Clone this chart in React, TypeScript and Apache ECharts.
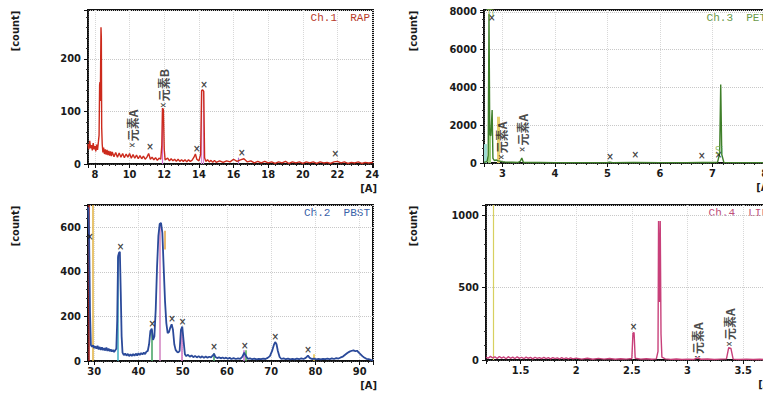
import React, { useEffect, useRef } from 'react';
import * as echarts from 'echarts';

// ---------------- Data ----------------
// Ch.1 RAP
const ch1X = [7.6,7.65,7.7,7.75,7.8,7.85,7.9,7.95,8.0,8.05,8.1,8.15,8.2,8.24,8.27,8.29,8.31,8.33,8.35,8.37,8.39,8.42,8.46,8.5,8.55,8.6,8.65,8.7,8.75,8.8,8.85,8.9,8.95,9.0,9.1,9.2,9.3,9.4,9.5,9.6,9.7,9.8,9.9,10.0,10.1,10.2,10.3,10.4,10.5,10.6,10.7,10.8,10.9,11.0,11.1,11.2,11.3,11.4,11.5,11.6,11.7,11.8,11.86,11.9,11.95,12.0,12.05,12.2,12.3,12.4,12.5,12.6,12.7,12.8,12.9,13.0,13.1,13.2,13.3,13.4,13.5,13.6,13.7,13.8,13.88,14.0,14.1,14.16,14.22,14.28,14.33,14.4,14.5,14.6,14.7,14.8,14.9,15.0,15.2,15.4,15.6,15.8,16.0,16.2,16.4,16.6,16.8,17.0,17.2,17.4,17.6,17.8,18.0,18.2,18.4,18.6,18.8,19.0,19.2,19.4,19.6,19.8,20.0,20.2,20.4,20.6,20.8,21.0,21.2,21.4,21.6,21.8,22.0,22.2,22.4,22.6,22.8,23.0,23.2,23.4,23.6,23.8,24.05];
const ch1Y = [38,28,44,30,36,26,40,28,34,24,37,27,42,55,150,156,120,190,260,240,70,38,22,31,19,28,18,27,17,25,16,24,15,23,14,22,13,21,13,20,12,19,13,20,11,18,11,17,10,16,10,15,9,13,20,9,13,8,12,7,11,9,35,106,104,28,8,11,6,10,6,9,5,9,5,8,5,8,4,8,5,7,12,19,9,6,18,140,141,138,12,5,8,4,7,3,7,3,6,3,6,4,9,5,8,10,4,6,2,5,2,5,2,4,1,4,2,5,1,4,2,4,1,4,2,4,1,4,2,3,1,4,5,2,4,1,3,2,4,1,3,2,3];
const ch1LineX = [11.9, 14.15, 14.28, 16.3];
const ch1LineTop = [106, 140, 140, 12];
const ch1MarkX = [11.18, 13.88, 14.3, 16.48, 21.87];
const ch1MarkY = [24, 19, 142, 12, 10];
const ch1NameX = [10.18, 11.95];
const ch1NameY = [30, 106];
const ch1NameText = ['元素A', '元素B'];

// Ch.2 PBST
const ch2X = [28.65,28.85,29.05,29.25,29.5,29.75,30.0,30.25,30.5,30.75,31.0,31.25,31.5,31.75,32.0,32.25,32.5,32.75,33.0,33.25,33.5,33.75,34.0,34.25,34.5,34.75,35.0,35.2,35.4,35.6,35.8,36.0,36.2,36.4,36.7,37.0,37.3,37.6,37.9,38.2,38.5,38.8,39.1,39.4,39.7,40.0,40.3,40.6,40.9,41.2,41.5,41.8,42.1,42.4,42.7,43.0,43.3,43.6,43.9,44.2,44.5,44.8,45.1,45.4,45.7,46.0,46.3,46.6,46.9,47.2,47.5,47.8,48.1,48.4,48.7,49.0,49.3,49.6,49.9,50.2,50.5,50.8,51.2,51.6,52.0,52.4,52.8,53.2,53.6,54.0,54.4,54.8,55.2,55.6,56.0,56.4,56.8,57.1,57.4,57.8,58.2,58.6,59.0,59.4,59.8,60.2,60.6,61.0,61.5,62.0,62.5,63.0,63.5,63.9,64.3,64.7,65.2,65.7,66.2,66.7,67.2,67.7,68.2,68.7,69.2,69.7,70.2,70.6,70.9,71.2,71.5,71.9,72.3,72.8,73.3,73.8,74.3,74.8,75.3,75.8,76.3,76.8,77.3,77.8,78.3,78.7,79.2,79.7,80.2,80.7,81.2,81.7,82.2,82.7,83.2,83.7,84.2,84.7,85.2,85.7,86.2,86.7,87.2,87.7,88.2,88.6,89.0,89.4,89.8,90.2,90.6,91.0,91.5,92.0,92.5,93.0];
const ch2Y = [690,560,220,72,64,70,58,66,55,68,52,63,50,61,49,58,47,60,45,55,44,52,42,50,40,48,55,180,470,485,490,310,110,38,26,34,24,32,22,30,23,31,24,33,25,35,27,36,29,38,31,42,45,75,135,145,95,110,230,420,560,615,620,575,420,270,170,125,130,150,165,140,75,50,42,38,45,140,155,90,30,22,28,19,25,17,23,16,22,15,21,14,20,15,19,16,25,32,18,13,17,12,16,11,15,10,14,9,13,9,12,10,20,38,22,10,12,8,11,7,10,8,11,9,14,22,45,72,85,75,45,18,9,12,8,11,7,10,7,11,8,12,9,14,24,14,9,11,7,10,7,10,8,11,8,12,9,13,11,16,20,28,36,42,46,48,44,46,38,30,22,16,10,8,5,4];
const ch2LineX = [28.72, 29.6, 35.25, 44.85, 46.0, 43.0, 49.75, 57.0, 63.8, 64.3, 79.6];
const ch2LineBot = [0, 0, 0, 0, 500, 0, 0, 0, 0, 0, 0];
const ch2LineTop = [700, 700, 465, 610, 585, 140, 150, 35, 48, 48, 30];
const ch2MarkX = [29.0, 35.96, 43.1, 47.6, 49.95, 57.1, 64.0, 70.9, 78.3];
const ch2MarkY = [535, 490, 145, 165, 155, 40, 45, 88, 28];

// Ch.3 PET
const ch3X = [2.65,2.68,2.71,2.73,2.745,2.76,2.78,2.805,2.82,2.85,2.88,2.92,2.96,3.0,3.05,3.1,3.2,3.3,3.34,3.37,3.4,3.5,3.7,4.0,4.5,5.0,5.05,5.1,5.5,6.0,6.5,6.8,7.0,7.1,7.14,7.16,7.18,7.22,7.5,8.08];
const ch3Y = [40,60,90,400,7900,1500,1450,2800,250,130,160,110,90,70,55,45,40,35,90,260,40,30,25,20,20,25,45,22,30,20,20,30,25,45,500,4150,450,35,20,20];
const ch3LineX = [2.665, 2.755, 2.92];
const ch3LineTop = [1000, 1600, 2450];
const ch3MarkX = [2.8, 5.05, 5.53, 6.8, 7.12];
const ch3MarkY = [7400, 40, 160, 110, 150];
const ch3NameX = [2.99, 3.39];
const ch3NameY = [150, 560];
const ch3NameText = ['元素A', '元素A'];
const ch3TagX = [2.77, 7.13];
const ch3TagY = [7920, 640];
const ch3TagText = ['Ti', 'Si'];

// Ch.4 LIF
const ch4X = [1.19,1.21,1.23,1.25,1.27,1.29,1.31,1.33,1.35,1.37,1.39,1.41,1.43,1.45,1.47,1.49,1.51,1.53,1.55,1.57,1.59,1.61,1.63,1.65,1.67,1.69,1.71,1.73,1.75,1.77,1.79,1.81,1.83,1.85,1.87,1.89,1.91,1.93,1.95,1.97,2.0,2.05,2.1,2.15,2.2,2.25,2.3,2.35,2.4,2.45,2.5,2.51,2.52,2.53,2.58,2.63,2.68,2.72,2.735,2.74,2.748,2.755,2.762,2.77,2.8,2.85,2.9,2.95,3.0,3.05,3.09,3.12,3.18,3.24,3.3,3.35,3.37,3.39,3.41,3.47,3.53,3.59,3.65,3.71,3.75];
const ch4Y = [20,12,25,14,22,10,24,13,21,9,23,12,20,10,22,11,19,9,20,12,18,8,19,11,17,9,18,10,16,8,17,9,15,7,16,8,14,7,15,8,13,6,12,5,11,6,10,5,9,6,10,185,190,12,6,9,5,8,60,960,400,960,180,20,8,4,7,3,6,3,14,5,7,3,6,8,85,80,6,3,6,3,5,2,4];
const ch4LineX = [1.256];
const ch4LineTop = [1070];
const ch4MarkX = [2.515];
const ch4MarkY = [195];
const ch4NameX = [3.09, 3.38];
const ch4NameY = [14, 90];
const ch4NamePrefix = [':', '×'];
const ch4NameText = ['元素A', '元素A'];

const titles = ['Ch.1  RAP', 'Ch.2  PBST', 'Ch.3  PET', 'Ch.4  LIF'];
const xRanges = [[7.6, 24.05], [28.6, 93], [2.65, 8.08], [1.19, 3.75]];
const xSplits = [8, 6, 5, 5];
const yMax = [293, 700, 8100, 1070];
const yStep = [100, 200, 2000, 500];

// ---------------- Styles ----------------
const TICK_FONT = "'Liberation Sans Narrow', 'DejaVu Sans Condensed', 'Arial Narrow', sans-serif";
const MONO = "'Liberation Mono', 'DejaVu Sans Mono', monospace";
const CJK = "'Noto Sans CJK JP', 'Noto Sans CJK SC', sans-serif";
const INK = '#1a1a1a';

const grids = [
  { left: 88, top: 10, width: 285, height: 154 },
  { left: 88, top: 205, width: 285, height: 156 },
  { left: 484, top: 10, width: 285, height: 153 },
  { left: 486, top: 205, width: 285, height: 155 },
];
const specColors = ['#cc2a1c', '#2b4a9a', '#3f7f2a', '#c8407a'];
const titleColors = ['#b83a2a', '#3a62a8', '#6a9a4a', '#c0507a'];
const ch1LineColors = ['#d46ad0', '#d88ad8', '#d88ad8', '#b070d0'];
const ch2LineColors = ['#a01818', '#e0b040', '#40b0c0', '#d080c0', '#e0a040', '#40a060', '#d070c0', '#40a060', '#c070d0', '#50b050', '#e8c040'];
const ch3LineColors = ['#9fdcd4', '#9ad07a', '#e8d070'];
const ch4LineColors = ['#d8d060'];

function vlines(xs: number[], tops: number[], colors: string[], bots?: number[], width = 1.2) {
  return xs.map((x, i) => [
    { coord: [x, bots ? bots[i] : 0], lineStyle: { color: colors[i], width, type: 'solid' } },
    { coord: [x, tops[i]] },
  ]);
}

function specSeries(i: number, xs: number[], ys: number[], lines: any[]) {
  return {
    type: 'line',
    xAxisIndex: i,
    yAxisIndex: i,
    data: xs.map((x, k) => [x, ys[k]]),
    symbol: 'none',
    showSymbol: false,
    lineStyle: { color: specColors[i], width: i === 1 ? 1.8 : 1.4 },
    silent: true,
    z: 3,
    markLine: {
      silent: true,
      symbol: ['none', 'none'],
      label: { show: false },
      data: lines,
      z: 2,
    },
  };
}

function markSeries(i: number, xs: number[], ys: number[]) {
  return {
    type: 'scatter',
    xAxisIndex: i,
    yAxisIndex: i,
    data: xs.map((x, k) => [x, ys[k]]),
    symbol: 'circle',
    symbolSize: 0.5,
    itemStyle: { color: 'rgba(0,0,0,0)' },
    silent: true,
    z: 5,
    label: {
      show: true,
      formatter: '×',
      position: 'top',
      distance: 0,
      color: '#111',
      fontSize: 10,
      fontWeight: 'bold',
      fontFamily: TICK_FONT,
    },
  };
}

function nameSeries(i: number, xs: number[], ys: number[], texts: string[], prefix?: string[]) {
  return {
    type: 'scatter',
    xAxisIndex: i,
    yAxisIndex: i,
    data: xs.map((x, k) => ({ value: [x, ys[k]], name: (prefix ? prefix[k] : '×') + '|' + texts[k] })),
    symbol: 'circle',
    symbolSize: 0.5,
    itemStyle: { color: 'rgba(0,0,0,0)' },
    silent: true,
    z: 6,
    label: {
      show: true,
      position: 'inside',
      rotate: 90,
      align: 'left',
      verticalAlign: 'middle',
      formatter: (p: any) => {
        const [a, b] = String(p.name).split('|');
        return '{s|' + a + '}' + b;
      },
      color: INK,
      fontSize: 12,
      fontFamily: CJK,
      fontWeight: 'bold',
      rich: { s: { fontSize: 8, color: INK, fontFamily: TICK_FONT, padding: [0, 1, 0, 0] } },
    },
  };
}

function tagSeries(i: number, xs: number[], ys: number[], texts: string[]) {
  return {
    type: 'scatter',
    xAxisIndex: i,
    yAxisIndex: i,
    data: xs.map((x, k) => ({ value: [x, ys[k]], name: texts[k] })),
    symbol: 'circle',
    symbolSize: 0.5,
    itemStyle: { color: 'rgba(0,0,0,0)' },
    silent: true,
    z: 6,
    label: {
      show: true,
      position: 'inside',
      formatter: '{b}',
      color: '#7ab04a',
      fontSize: 10,
      fontFamily: TICK_FONT,
    },
  };
}

export default function App() {
  const ref = useRef<HTMLDivElement>(null);
  useEffect(() => {
    if (!ref.current) return;
    const chart = echarts.init(ref.current, undefined, { renderer: 'svg' });

    const xAxis = grids.map((g, i) => ({
      type: 'value',
      gridIndex: i,
      min: xRanges[i][0],
      max: xRanges[i][1],
      splitNumber: xSplits[i],
      axisLine: { show: true, onZero: false, lineStyle: { color: '#111', width: 1.5 } },
      axisTick: { show: true, length: 4, lineStyle: { color: '#111', width: 1 } },
      minorTick: { show: true, splitNumber: 5, length: 2, lineStyle: { color: '#222', width: 1 } },
      axisLabel: {
        show: true,
        showMinLabel: false,
        showMaxLabel: false,
        color: INK,
        fontSize: 11,
        fontWeight: 'bold',
        fontFamily: TICK_FONT,
        margin: 5,
        formatter: (v: number) => String(v),
      },
      splitLine: { show: true, lineStyle: { color: '#d8d8d8', type: 'dotted', width: 1 } },
    }));

    const yAxis = grids.map((g, i) => ({
      type: 'value',
      gridIndex: i,
      min: 0,
      max: yMax[i],
      interval: yStep[i],
      axisLine: { show: true, lineStyle: { color: '#111', width: 1.5 } },
      axisTick: { show: true, length: 4, lineStyle: { color: '#111', width: 1 } },
      minorTick: { show: true, splitNumber: 5, length: 2, lineStyle: { color: '#333', width: 1 } },
      axisLabel: {
        show: true,
        showMaxLabel: false,
        color: INK,
        fontSize: 11,
        fontWeight: 'bold',
        fontFamily: TICK_FONT,
        margin: 7,
        formatter: (v: number) => String(v),
      },
      splitLine: { show: true, lineStyle: { color: '#c8c8c8', type: 'dotted', width: 1 } },
    }));

    const graphic: any[] = [];
    grids.forEach((g, i) => {
      const right = g.left + g.width;
      const bottom = g.top + g.height;
      graphic.push({
        type: 'text',
        x: right - 3,
        y: g.top + 8,
        style: { text: titles[i], fill: titleColors[i], font: `11px ${MONO}`, align: 'right', textAlign: 'right', verticalAlign: 'middle', textVerticalAlign: 'middle' },
      });
      graphic.push({
        type: 'text',
        x: right + 4,
        y: bottom + 24,
        style: { text: '[A]', fill: INK, font: `bold 11px ${TICK_FONT}`, align: 'right', textAlign: 'right', verticalAlign: 'middle', textVerticalAlign: 'middle' },
      });
      graphic.push({
        type: 'text',
        x: g.left < 200 ? 15 : 413,
        y: g.top + 21,
        rotation: Math.PI / 2,
        style: { text: '[count]', fill: INK, font: `bold 11px ${TICK_FONT}`, align: 'center', textAlign: 'center', verticalAlign: 'middle', textVerticalAlign: 'middle' },
      });
    });

    const series: any[] = [
      specSeries(0, ch1X, ch1Y, vlines(ch1LineX, ch1LineTop, ch1LineColors)),
      markSeries(0, ch1MarkX, ch1MarkY),
      nameSeries(0, ch1NameX, ch1NameY, ch1NameText),
      specSeries(1, ch2X, ch2Y, vlines(ch2LineX, ch2LineTop, ch2LineColors, ch2LineBot, 1.5)),
      markSeries(1, ch2MarkX, ch2MarkY),
      specSeries(2, ch3X, ch3Y, vlines(ch3LineX, ch3LineTop, ch3LineColors, undefined, 3)),
      markSeries(2, ch3MarkX, ch3MarkY),
      nameSeries(2, ch3NameX, ch3NameY, ch3NameText),
      tagSeries(2, ch3TagX, ch3TagY, ch3TagText),
      specSeries(3, ch4X, ch4Y, vlines(ch4LineX, ch4LineTop, ch4LineColors)),
      markSeries(3, ch4MarkX, ch4MarkY),
      nameSeries(3, ch4NameX, ch4NameY, ch4NameText, ch4NamePrefix),
    ];

    chart.setOption({
      animation: false,
      backgroundColor: '#ffffff',
      grid: grids.map((g) => ({ ...g, show: true, borderColor: '#111', borderWidth: 2, backgroundColor: 'transparent', containLabel: false })),
      xAxis,
      yAxis,
      series,
      graphic,
    });
    return () => chart.dispose();
  }, []);

  // The right-hand panels run past the window edge in the reference, so the canvas is wider than the viewport.
  return <div ref={ref} style={{ position: 'fixed', left: 0, top: 0, width: 790, height: 394, background: '#fff' }} />;
}
